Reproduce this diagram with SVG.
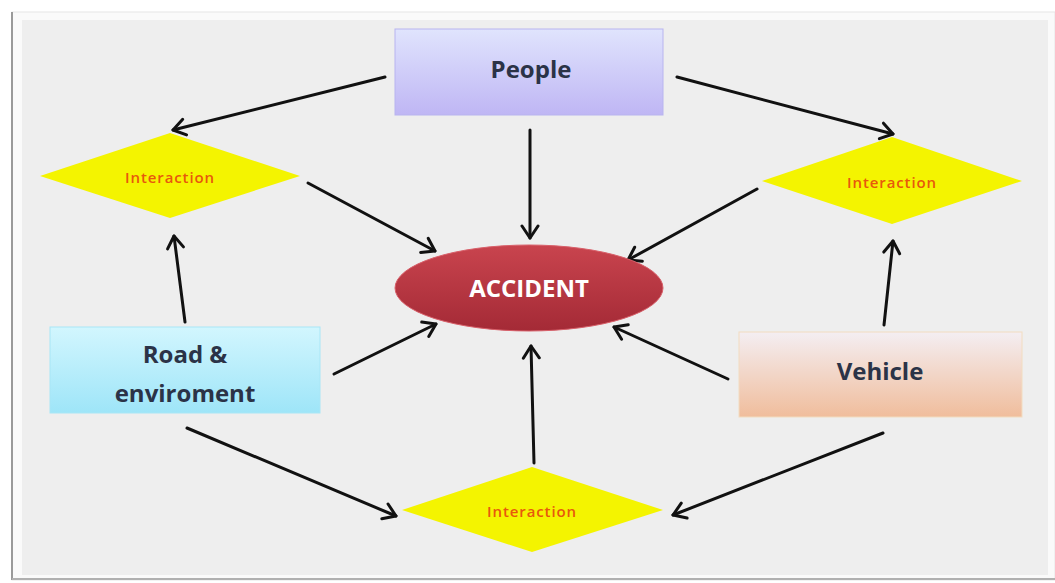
<svg xmlns="http://www.w3.org/2000/svg" width="1055" height="583" viewBox="0 0 1055 583">
<defs>
<linearGradient id="gPeople" x1="0" y1="0" x2="0" y2="1"><stop offset="0" stop-color="#e0e4fd"/><stop offset="1" stop-color="#bfb6f4"/></linearGradient>
<linearGradient id="gRoad" x1="0" y1="0" x2="0" y2="1"><stop offset="0" stop-color="#d2f6fe"/><stop offset="1" stop-color="#9ee5f8"/></linearGradient>
<linearGradient id="gVeh" x1="0" y1="0" x2="0" y2="1"><stop offset="0" stop-color="#f4eef2"/><stop offset="1" stop-color="#f0bd9c"/></linearGradient>
<linearGradient id="gAcc" x1="0" y1="0" x2="0" y2="1"><stop offset="0" stop-color="#c9444e"/><stop offset="1" stop-color="#a42a36"/></linearGradient>
<marker id="arr" markerUnits="userSpaceOnUse" markerWidth="24" markerHeight="24" refX="14" refY="12" orient="auto" viewBox="0 0 24 24">
<path d="M2,4 L14,12 L2,20" fill="none" stroke="#111" stroke-width="3" stroke-linecap="round" stroke-linejoin="round"/>
</marker>
<style>
.box{stroke-width:1}
.lbl{font-family:"Open Sans","Liberation Sans",sans-serif;font-weight:bold;font-size:24px;text-anchor:middle;fill:#2b3347}
.int{font-family:"Open Sans","Liberation Sans",sans-serif;font-size:15px;letter-spacing:0.9px;text-anchor:middle;fill:#e8580c;font-weight:600}
.dia{fill:#f4f400}
.con line{stroke:#111;stroke-width:3;stroke-linecap:round;marker-end:url(#arr)}
</style>
</defs>
<rect x="0" y="0" width="1055" height="583" fill="#ffffff"/>
<rect x="12" y="12" width="1043" height="568" fill="#fafafa" stroke="#e6e6e6" stroke-width="1"/>
<line x1="12" y1="12" x2="12" y2="580" stroke="#9a9a9a" stroke-width="2"/>
<line x1="12" y1="579" x2="1055" y2="579" stroke="#b0b0b0" stroke-width="2"/>
<rect x="22" y="20" width="1026" height="555" fill="#eeeeee"/>

<g class="con">
<line x1="385" y1="77" x2="173" y2="130"/>
<line x1="677" y1="77" x2="893" y2="134"/>
<line x1="530" y1="130" x2="530" y2="238"/>
<line x1="308" y1="183" x2="435" y2="251"/>
<line x1="757" y1="189" x2="628" y2="260"/>
<line x1="185" y1="322" x2="174" y2="236"/>
<line x1="334" y1="374" x2="436" y2="324"/>
<line x1="884" y1="325" x2="893" y2="241"/>
<line x1="728" y1="379" x2="614" y2="327"/>
<line x1="534" y1="463" x2="531" y2="346"/>
<line x1="187" y1="428" x2="396" y2="516"/>
<line x1="883" y1="433" x2="673" y2="515"/>
</g>

<g id="people">
<rect class="box" x="395" y="29" width="268" height="86" fill="url(#gPeople)" stroke="#b8b4ef"/>
<text class="lbl" x="531" y="78">People</text>
</g>
<g id="int-left">
<polygon class="dia" points="40,176 170,133 300,176 170,218"/>
<text class="int" x="170" y="183">Interaction</text>
</g>
<g id="int-right">
<polygon class="dia" points="762,181 892,137 1022,181 892,224"/>
<text class="int" x="892" y="188">Interaction</text>
</g>
<g id="int-bottom">
<polygon class="dia" points="402,510 532,467 663,510 532,552"/>
<text class="int" x="532" y="517">Interaction</text>
</g>
<g id="accident">
<ellipse cx="529" cy="288" rx="134" ry="43" fill="url(#gAcc)" stroke="#d8606a" stroke-width="1"/>
<text class="lbl" x="529" y="297" style="fill:#ffffff">ACCIDENT</text>
</g>
<g id="road">
<rect class="box" x="50" y="327" width="270" height="86" fill="url(#gRoad)" stroke="#a8e6f6"/>
<text class="lbl" x="185" y="363">Road &amp;</text>
<text class="lbl" x="185" y="402">enviroment</text>
</g>
<g id="vehicle">
<rect class="box" x="739" y="332" width="283" height="85" fill="url(#gVeh)" stroke="#f2dcc0"/>
<text class="lbl" x="880" y="380">Vehicle</text>
</g>
</svg>
